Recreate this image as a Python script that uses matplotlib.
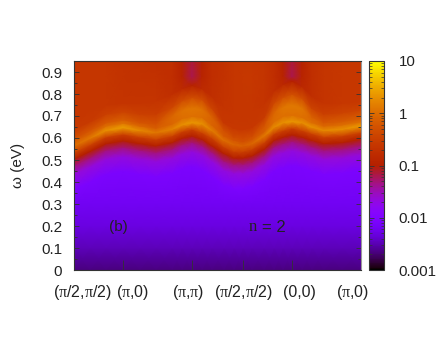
import matplotlib
matplotlib.use("Agg")
import matplotlib.pyplot as plt
import numpy as np
from matplotlib.colors import LogNorm
from matplotlib.ticker import LogLocator, NullFormatter

plt.rcParams['font.family'] = ['Liberation Sans', 'DejaVu Sans']
plt.rcParams['mathtext.fontset'] = 'custom'
plt.rcParams['mathtext.rm'] = 'Liberation Serif'
plt.rcParams['mathtext.it'] = 'Liberation Serif'

# position along the k path (columns of the tables below)
k_path = [0, 16, 32, 49, 66, 82, 98, 108, 118, 128, 138, 150, 160, 169, 178, 190, 200, 209, 218, 228, 238, 250, 268, 287]
k_ticks = [49, 118, 169, 218]
k_names = ['(π/2,π/2)', '(π,0)', '(π,π)', '(π/2,π/2)', '(0,0)', '(π,0)']
k_name_pos = [8, 59, 114, 169, 225, 279]

# contour lines: energy (eV) along the path, log10 intensity along the path
e_00 = [0.0] * 24
e_01 = [0.1] * 24
e_02 = [0.2] * 24
e_03 = [0.3] * 24
e_low = [.365,.40,.435,.448,.435,.425,.44,.46,.47,.455,.425,.385,.37,.37,.38,.41,.45,.465,.475,.465,.45,.435,.44,.455]
e_purple = [.435,.47,.505,.518,.505,.495,.51,.53,.54,.525,.495,.455,.44,.44,.45,.48,.52,.535,.545,.535,.52,.505,.51,.525]
e_edge = [.475,.51,.545,.558,.545,.535,.55,.57,.58,.565,.535,.495,.48,.48,.49,.52,.56,.575,.585,.575,.56,.545,.55,.565]
e_dark = [.505,.54,.575,.588,.575,.565,.58,.60,.61,.595,.565,.53,.51,.51,.52,.55,.59,.605,.615,.605,.59,.575,.58,.595]
e_rise = [.535,.57,.605,.618,.605,.595,.61,.63,.64,.625,.60,.56,.54,.54,.55,.58,.62,.635,.645,.635,.62,.605,.61,.625]
e_ridge = [.565,.60,.635,.648,.635,.625,.64,.66,.67,.665,.635,.59,.57,.565,.575,.61,.65,.67,.675,.67,.65,.635,.64,.655]
e_gap = [.585,.62,.655,.668,.655,.645,.665,.69,.70,.695,.66,.61,.59,.585,.595,.63,.675,.70,.705,.695,.67,.655,.66,.675]
e_upper = [.60,.635,.67,.683,.67,.665,.70,.725,.735,.73,.695,.635,.605,.60,.61,.655,.715,.74,.75,.735,.695,.67,.675,.69]
e_fall = [.64,.675,.71,.72,.71,.71,.74,.77,.785,.775,.735,.67,.645,.64,.65,.695,.76,.785,.80,.78,.735,.71,.715,.73]
e_vee = [.70,.73,.75,.76,.76,.77,.80,.825,.84,.825,.79,.74,.72,.71,.72,.76,.815,.845,.86,.835,.79,.76,.76,.77]
e_dome = [.88] * 24
e_top = [.95] * 24

i_00 = [-2.66] * 24
i_01 = [-2.48] * 24
i_02 = [-2.3] * 24
i_03 = [-2.2] * 24
i_low = [-2.05] * 24
i_purple = [-1.65] * 24
i_edge = [-1.3] * 24
i_dark = [-1.0] * 24
i_rise = [-.45] * 24
i_ridge = [0,.1,.3,.4,.25,.1,.2,.3,.35,.3,.15,0,-.05,-.1,-.05,.1,.25,.3,.35,.3,.3,.25,.3,.35]
i_gap = [-.15,-.1,0,.05,-.05,-.15,-.05,0,.02,0,-.08,-.2,-.25,-.3,-.25,-.15,0,.03,.03,.03,0,-.05,0,0]
i_upper = [-.3,-.25,-.2,-.15,-.25,-.28,-.05,.05,.1,.05,-.1,-.3,-.35,-.35,-.35,-.25,-.05,.08,.12,.08,-.12,-.2,-.15,-.15]
i_fall = [-.55,-.55,-.5,-.45,-.5,-.52,-.4,-.33,-.33,-.33,-.45,-.6,-.6,-.6,-.6,-.55,-.38,-.3,-.3,-.3,-.45,-.5,-.45,-.45]
i_vee = [-.62,-.62,-.62,-.65,-.65,-.65,-.72,-.8,-.95,-.8,-.72,-.65,-.62,-.62,-.62,-.65,-.72,-.85,-1.0,-.85,-.72,-.65,-.6,-.6]
i_dome = [-.62,-.62,-.62,-.66,-.68,-.7,-.74,-.92,-1.2,-.92,-.74,-.68,-.62,-.6,-.6,-.63,-.74,-.92,-1.2,-.92,-.72,-.63,-.6,-.6]
i_top = [-.62,-.62,-.62,-.68,-.7,-.72,-.72,-.95,-1.15,-.95,-.72,-.68,-.62,-.62,-.62,-.65,-.75,-.95,-1.15,-.95,-.72,-.65,-.6,-.6]

Y = np.array([e_00, e_01, e_02, e_03, e_low, e_purple, e_edge, e_dark, e_rise, e_ridge, e_gap, e_upper, e_fall, e_vee, e_dome, e_top])
C = np.array([i_00, i_01, i_02, i_03, i_low, i_purple, i_edge, i_dark, i_rise, i_ridge, i_gap, i_upper, i_fall, i_vee, i_dome, i_top])
X = np.tile(k_path, (Y.shape[0], 1))

fig = plt.figure(figsize=(4.36, 3.49), dpi=100)
ax = fig.add_axes([74/436, 79/349, 287/436, 209/349])
cax = fig.add_axes([369/436, 79/349, 15/436, 209/349])

mesh = ax.pcolormesh(X, Y, 10.0**C, shading='gouraud', cmap='gnuplot',
                     norm=LogNorm(vmin=0.001, vmax=10), rasterized=True)
ax.set_xlim(0, 287)
ax.set_ylim(0, 0.95)

edge = '#333333'
txt = '#222222'
for s in ax.spines.values():
    s.set_color(edge)
    s.set_linewidth(0.8)
ax.spines['right'].set_color('#999999')

ax.set_yticks(np.arange(0, 0.95, 0.1))
ax.set_yticklabels(['0', '0.1', '0.2', '0.3', '0.4', '0.5', '0.6', '0.7', '0.8', '0.9'], fontsize=11, color=txt)
ax.set_yticks(np.arange(0.05, 0.95, 0.1), minor=True)
ax.tick_params(axis='y', which='major', direction='in', length=3.6, width=0.6, color=edge, right=True, pad=8.5)
ax.tick_params(axis='y', which='minor', direction='in', length=2, width=0.6, color=edge, right=True)
ax.set_xticks(k_ticks)
ax.set_xticklabels([])
ax.tick_params(axis='x', direction='in', length=7.5, width=0.6, color=edge)

# pi is drawn with a serif face, the rest of the label in sans
for name, pos in zip(k_names, k_name_pos):
    ax.text(pos, -0.1, name.replace('π', '$\\mathrm{\\pi}$'), ha='center', va='center', fontsize=11.5, color=txt)

ax.set_ylabel('ω (eV)', fontsize=11, color=txt)
ax.yaxis.set_label_coords(-49/287, 0.5)
ax.text(44, 0.195, '(b)', ha='center', va='center', fontsize=11, color=txt)
ax.text(179, 0.195, 'n', ha='center', va='center', fontsize=12, family='Liberation Serif', color=txt)
ax.text(188, 0.195, '= 2', ha='left', va='center', fontsize=12, color=txt)

cb = fig.colorbar(mesh, cax=cax)
cb.outline.set_edgecolor(edge)
cb.outline.set_linewidth(0.8)
cb.set_ticks([0.001, 0.01, 0.1, 1, 10])
cb.set_ticklabels(['0.001', '0.01', '0.1', '1', '10'])
cax.yaxis.set_minor_locator(LogLocator(base=10, subs=np.arange(2, 10), numticks=10))
cax.yaxis.set_minor_formatter(NullFormatter())
cax.tick_params(axis='y', which='major', direction='in', length=3.6, width=0.6, color=edge, left=True, right=True, labelsize=10.8, labelcolor=txt, pad=10.5)
cax.tick_params(axis='y', which='minor', direction='in', length=2, width=0.5, color=edge, left=True, right=True)

fig.savefig('out.png', dpi=100)
